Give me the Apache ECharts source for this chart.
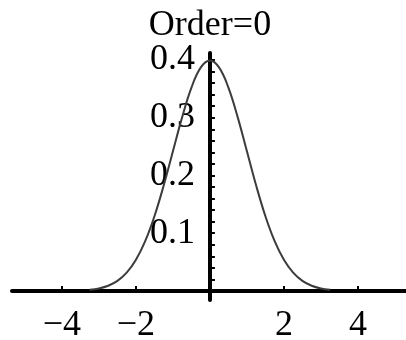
<!DOCTYPE html>
<html>
<head>
<meta charset="utf-8">
<script src="https://cdn.jsdelivr.net/npm/echarts@6/dist/echarts.min.js"></script>
<style>
  html, body { margin: 0; padding: 0; background: #fff; }
  #chart { width: 406px; height: 340px; }
</style>
</head>
<body>
<div id="chart"></div>
<script>
// Gaussian (order 0) sampled values
const xs = [-3.25, -3, -2.75, -2.5, -2.25, -2, -1.75, -1.5, -1.25, -1, -0.75, -0.5, -0.25,
            0, 0.25, 0.5, 0.75, 1, 1.25, 1.5, 1.75, 2, 2.25, 2.5, 2.75, 3, 3.25];
const ys = [0.002, 0.0044, 0.0091, 0.0175, 0.0317, 0.054, 0.0863, 0.1295, 0.1826, 0.242, 0.3011, 0.3521, 0.3867,
            0.3989, 0.3867, 0.3521, 0.3011, 0.242, 0.1826, 0.1295, 0.0863, 0.054, 0.0317, 0.0175, 0.0091, 0.0044, 0.002];
const xTicks = [-4, -2, 2, 4];
const yMinorTicks = [0.02, 0.04, 0.06, 0.08, 0.1, 0.12, 0.14, 0.16, 0.18, 0.2,
                     0.22, 0.24, 0.26, 0.28, 0.3, 0.32, 0.34, 0.36, 0.38, 0.4];
const yLabels = [0.1, 0.2, 0.3, 0.4];
const titleText = 'Order=0';

const FONT = 'Liberation Serif';
const X_MIN = -5.35, X_MAX = 5.3;
const GRID_LEFT = 12, GRID_RIGHT = 0, WIDTH = 406;

const chart = echarts.init(document.getElementById('chart'), null, { renderer: 'canvas' });

// the vertical axis sits at x = 0 inside the grid
const plotW = WIDTH - GRID_LEFT - GRID_RIGHT;
const zeroOffset = (0 - X_MIN) / (X_MAX - X_MIN) * plotW;

chart.setOption({
  animation: false,
  backgroundColor: '#fff',
  grid: { left: GRID_LEFT, right: GRID_RIGHT, top: 53, bottom: 40, containLabel: false, outerBoundsMode: 'none' },
  graphic: [{
    type: 'text', x: 210, y: 8,
    style: { text: titleText, font: '36px "' + FONT + '"', fill: '#000', textAlign: 'center', textVerticalAlign: 'top' }
  }],
  xAxis: {
    type: 'value', min: X_MIN, max: X_MAX,
    axisLine: { onZero: true, lineStyle: { color: '#000', width: 4 } },
    axisTick: { show: true, inside: true, length: 5, customValues: xTicks, lineStyle: { color: '#000', width: 2 } },
    axisLabel: {
      customValues: xTicks, margin: 8, color: '#000', fontFamily: FONT, fontSize: 36,
      formatter: v => String(v).replace('-', '\u2212')
    },
    splitLine: { show: false }
  },
  yAxis: {
    type: 'value', min: -0.0156, max: 0.4121,
    position: 'left', offset: -zeroOffset,
    axisLine: { onZero: false, lineStyle: { color: '#000', width: 4 } },
    axisTick: { show: true, inside: true, length: 5, customValues: yMinorTicks, lineStyle: { color: '#000', width: 2 } },
    axisLabel: {
      show: true, customValues: yLabels, margin: 15, color: '#000', fontFamily: FONT, fontSize: 36,
      hideOverlap: false,
      formatter: v => Number(v).toFixed(1)
    },
    splitLine: { show: false }
  },
  series: [{
    type: 'line',
    data: xs.map((x, i) => [x, ys[i]]),
    showSymbol: false,
    smooth: 0.4,
    lineStyle: { color: '#3c3c3c', width: 2 },
    z: 1
  }]
});
</script>
</body>
</html>
